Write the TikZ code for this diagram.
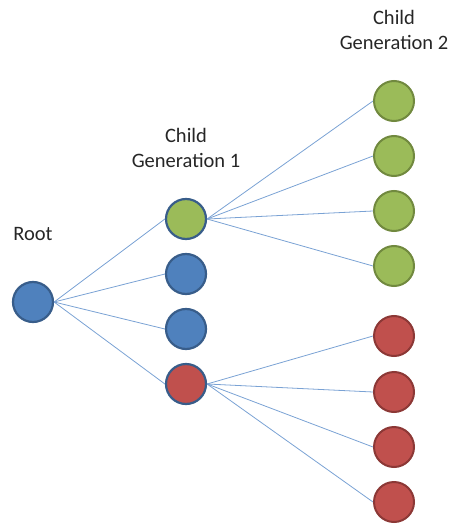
\documentclass[tikz,border=0pt]{standalone}
\usepackage{fontspec}
\setmainfont{Carlito}
\definecolor{bluefill}{HTML}{4F81BD}
\definecolor{blueline}{HTML}{385D8A}
\definecolor{greenfill}{HTML}{9BBB59}
\definecolor{greenline}{HTML}{71893F}
\definecolor{redfill}{HTML}{C0504D}
\definecolor{redline}{HTML}{8C3836}
\definecolor{conn}{RGB}{122,162,212}
\begin{document}
\begin{tikzpicture}[x=1bp,y=-1bp,
  bnode/.style={circle,minimum size=40bp,inner sep=0pt,line width=2.2bp},
  gone/.style={bnode,draw=blueline},
  gtwo/.style={circle,minimum size=40bp,inner sep=0pt,line width=2bp},
  lab/.style={font=\fontsize{20.5bp}{25bp}\selectfont,align=center,text=black!85},
  link/.style={draw=conn,line width=0.8bp}]
\useasboundingbox (0,0) rectangle (453,527);
\node[gone,fill=bluefill] (root) at (33,302) {};
\node[gone,fill=greenfill] (a1) at (186,219) {};
\node[gone,fill=bluefill] (a2) at (186,274) {};
\node[gone,fill=bluefill] (a3) at (186,329) {};
\node[gone,fill=redfill] (a4) at (186,384) {};
\node[gtwo,fill=greenfill,draw=greenline] (g1) at (394,101) {};
\node[gtwo,fill=greenfill,draw=greenline] (g2) at (394,156) {};
\node[gtwo,fill=greenfill,draw=greenline] (g3) at (394,211) {};
\node[gtwo,fill=greenfill,draw=greenline] (g4) at (394,266) {};
\node[gtwo,fill=redfill,draw=redline] (r1) at (394,336) {};
\node[gtwo,fill=redfill,draw=redline] (r2) at (394,392) {};
\node[gtwo,fill=redfill,draw=redline] (r3) at (394,447) {};
\node[gtwo,fill=redfill,draw=redline] (r4) at (394,502) {};
\node[lab] (lroot) at (33,234) {Root};
\node[lab] (lg1) at (186,148) {Child\\Generation 1};
\node[lab] (lg2) at (394,30) {Child\\Generation 2};
\foreach \t in {a1,a2,a3,a4} \draw[link] (root.east) -- (\t.west);
\foreach \t in {g1,g2,g3,g4} \draw[link] (a1.east) -- (\t.west);
\foreach \t in {r1,r2,r3,r4} \draw[link] (a4.east) -- (\t.west);
\end{tikzpicture}
\end{document}
